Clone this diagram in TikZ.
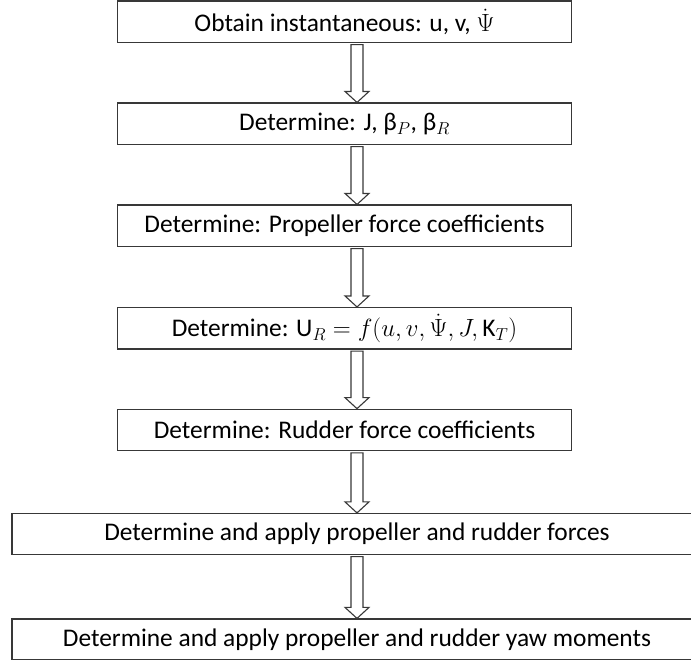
\documentclass[tikz,border=0pt]{standalone}
\usepackage{fontspec}
\setmainfont{Carlito}
\usetikzlibrary{calc}
\newcommand{\blkarrow}[2]{%
  \draw[blk] ($(#1.south -| ax)+(-6,1.5)$) -- ($(#2.north -| ax)+(-6,-11)$)
    -- ($(#2.north -| ax)+(-12,-11)$) -- (#2.north -| ax)
    -- ($(#2.north -| ax)+(12,-11)$) -- ($(#2.north -| ax)+(6,-11)$)
    -- ($(#1.south -| ax)+(6,1.5)$) -- cycle;}
\begin{document}
\begin{tikzpicture}[x=1pt,y=-1pt,
  box/.style={draw=black!78, line width=1.2pt, rectangle, inner sep=0pt,
    font=\fontsize{25.4}{30}\selectfont},
  narrow/.style={box, minimum width=454pt, minimum height=41.5pt},
  wide/.style={box, minimum width=690pt, minimum height=41pt},
  blk/.style={draw=black!78, line width=1.1pt, fill=white, line join=miter}]
\clip (0,0) rectangle (691,659);
\fill[white] (0,0) rectangle (691,659);
\coordinate (ax) at (357,0);
\node[narrow] (b1) at (344.5,21.8) {Obtain instantaneous: u, v, $\dot{\Psi}$};
\node[narrow] (b2) at (344.5,123.8) {Determine: J, β$_{P}$, β$_{R}$};
\node[narrow] (b3) at (344.5,225.8) {Determine: Propeller force coefficients};
\node[narrow] (b4) at (344.5,328.3) {Determine: $\mathrm{U}_{R}=f(u,v,\dot{\Psi},J,\mathrm{K}_{T})$};
\node[narrow] (b5) at (344.5,430) {Determine: Rudder force coefficients};
\node[wide] (b6) at (357,534) {Determine and apply propeller and rudder forces};
\node[wide] (b7) at (357,639.5) {Determine and apply propeller and rudder yaw moments};
\blkarrow{b1}{b2}
\blkarrow{b2}{b3}
\blkarrow{b3}{b4}
\blkarrow{b4}{b5}
\blkarrow{b5}{b6}
\blkarrow{b6}{b7}
\end{tikzpicture}
\end{document}
